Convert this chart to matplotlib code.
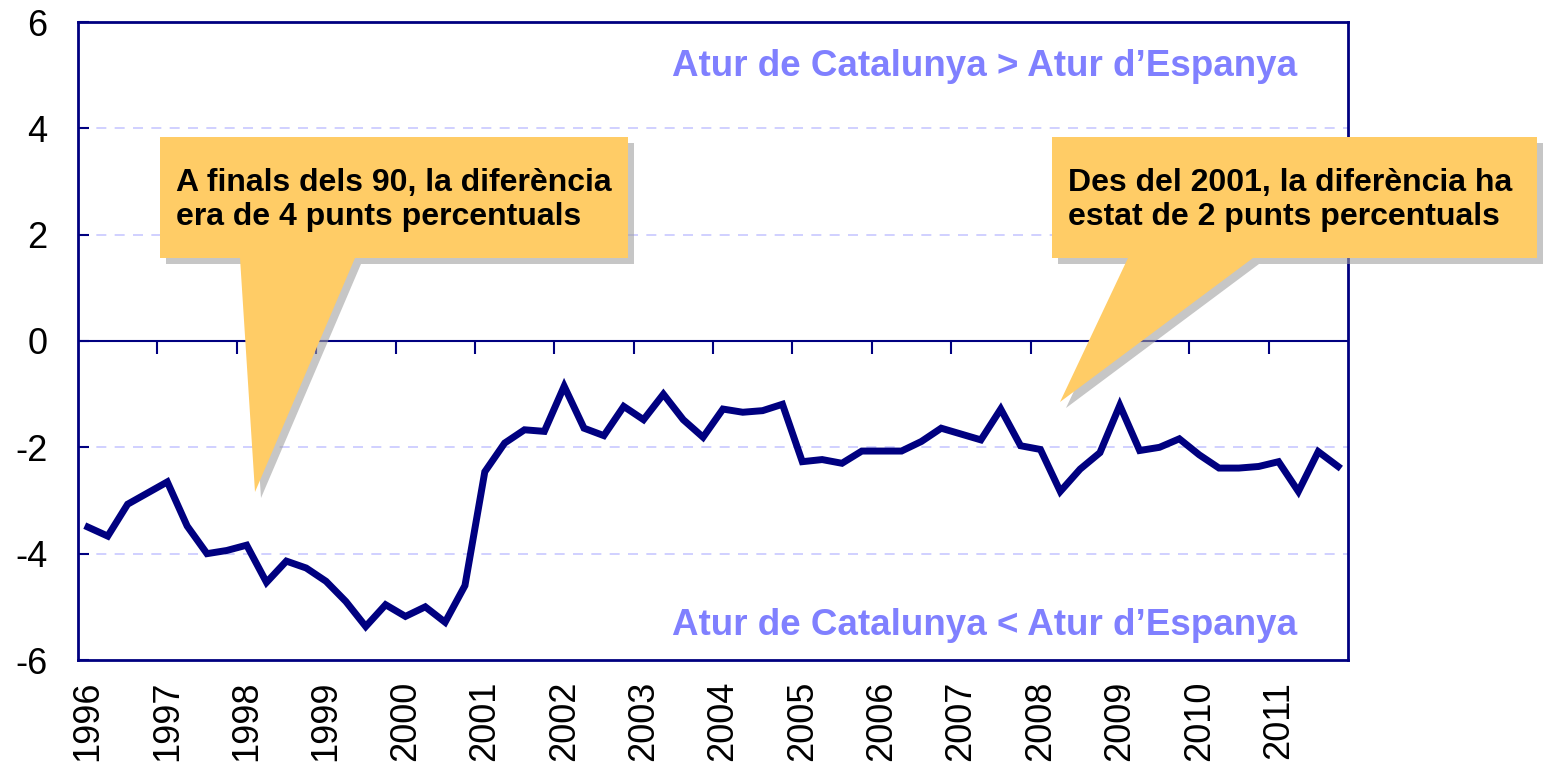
# diferencia entre l'atur de Catalunya i el d'Espanya (punts percentuals)
# dades trimestrals 1996-2011

import matplotlib.pyplot as plt
from matplotlib.patches import Polygon

plt.rcParams['font.family'] = ['Liberation Sans', 'DejaVu Sans']

years = list(range(1996, 2012))
quarters = [f"{y}T{q}" for y in years for q in range(1, 5)]
diferencia = [
    -3.50, -3.67, -3.07, -2.86, -2.65, -3.48, -4.00, -3.94,
    -3.84, -4.54, -4.14, -4.27, -4.52, -4.90, -5.37, -4.96,
    -5.18, -5.00, -5.29, -4.60, -2.46, -1.92, -1.67, -1.70,
    -0.85, -1.64, -1.78, -1.23, -1.48, -1.00, -1.48, -1.81,
    -1.28, -1.34, -1.31, -1.19, -2.27, -2.23, -2.30, -2.07,
    -2.07, -2.07, -1.89, -1.64, -1.75, -1.86, -1.28, -1.97,
    -2.04, -2.83, -2.41, -2.10, -1.21, -2.06, -2.00, -1.84,
    -2.14, -2.39, -2.39, -2.36, -2.27, -2.83, -2.08, -2.36,
]
year_labels = [str(y) for y in years]
y_ticks = [6, 4, 2, 0, -2, -4, -6]

navy = '#000080'
W, H = 1543, 768

fig = plt.figure(figsize=(W / 100, H / 100), dpi=100)
ax = fig.add_axes([78 / W, 1 - 660 / H, (1348 - 78) / W, (660 - 22) / H])

x = list(range(len(quarters)))
ax.plot(x, diferencia, color=navy, lw=5, solid_joinstyle='miter', zorder=3)

ax.set_xlim(-0.5, len(quarters) - 0.5)
ax.set_ylim(-6, 6)
ax.set_yticks(y_ticks)
ax.set_yticklabels([str(v) for v in y_ticks], fontsize=26)
ax.set_xticks(x[::4])
ax.set_xticklabels(year_labels, rotation=90, fontsize=26)
ax.tick_params(axis='x', length=0, pad=15)
ax.tick_params(axis='y', direction='in', length=8, width=1.5, color=navy, pad=22)

for gy in [4, 2, -2, -4]:
    ax.axhline(gy, color='#c8c8ff', lw=1.2, ls=(0, (6, 5)), zorder=1)
ax.axhline(0, color=navy, lw=1.5, zorder=2)
for s in ax.spines.values():
    s.set_color(navy)
    s.set_linewidth(2)

# marques d'any sobre la línia del zero
sec = ax.secondary_xaxis(0, transform=ax.transData)
sec.set_xticks([i - 0.5 for i in x[4::4]])
sec.tick_params(direction='out', length=9, width=1.5, color=navy, labelbottom=False)
sec.spines['bottom'].set_visible(False)

ax.text(0.96, 0.93, 'Atur de Catalunya > Atur d\u2019Espanya', transform=ax.transAxes,
        ha='right', va='center', fontsize=26.5, fontweight='bold', color='#8080ff')
ax.text(0.96, 0.054, 'Atur de Catalunya < Atur d\u2019Espanya', transform=ax.transAxes,
        ha='right', va='center', fontsize=26.5, fontweight='bold', color='#8080ff')


def px(pts):
    return [(a / W, 1 - b / H) for a, b in pts]


def callout(pts, text, tx):
    shadow = [(a + 6, b + 6) for a, b in pts]
    fig.patches.append(Polygon(px(shadow), closed=True, transform=fig.transFigure,
                               fc='#a0a0a0', ec='none', alpha=0.6, zorder=5))
    fig.patches.append(Polygon(px(pts), closed=True, transform=fig.transFigure,
                               fc='#ffcc66', ec='none', zorder=6))
    fig.text(tx / W, 1 - 200 / H, text, fontsize=23, fontweight='bold',
             ha='left', va='center', linespacing=1.2, zorder=7)


callout([(160, 137), (628, 137), (628, 258), (355, 258), (255, 492), (240, 258), (160, 258)],
        'A finals dels 90, la diferència\nera de 4 punts percentuals', 176)
callout([(1052, 137), (1537, 137), (1537, 258), (1253, 258), (1060, 402), (1128, 258), (1052, 258)],
        'Des del 2001, la diferència ha\nestat de 2 punts percentuals', 1068)

fig.savefig('out.png', dpi=100)
